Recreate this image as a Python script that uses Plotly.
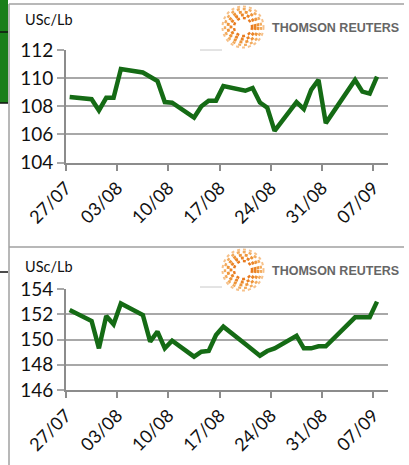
import plotly.graph_objects as go
import pandas as pd

W, H = 409, 465

# ---- data ----
dates = ["2018-07-27", "2018-07-30", "2018-07-31", "2018-08-01", "2018-08-02", "2018-08-03",
         "2018-08-06", "2018-08-07", "2018-08-08", "2018-08-09", "2018-08-10",
         "2018-08-13", "2018-08-14", "2018-08-15", "2018-08-16", "2018-08-17",
         "2018-08-20", "2018-08-21", "2018-08-22", "2018-08-23", "2018-08-24",
         "2018-08-27", "2018-08-28", "2018-08-29", "2018-08-30", "2018-08-31",
         "2018-09-04", "2018-09-05", "2018-09-06", "2018-09-07"]
top_values = [108.66, 108.5, 107.7, 108.6, 108.6, 110.65,
              110.4, 110.1, 109.8, 108.3, 108.25,
              107.2, 108.0, 108.4, 108.4, 109.44,
              109.1, 109.3, 108.26, 107.9, 106.25,
              108.3, 107.8, 109.16, 109.87, 106.8,
              109.87, 109.04, 108.9, 110.1]
bottom_values = [152.34, 151.47, 149.3, 151.86, 151.2, 152.86,
                 151.94, 149.83, 150.62, 149.3, 149.9,
                 148.64, 149.03, 149.09, 150.36, 151.02,
                 149.64, 149.18, 148.72, 149.09, 149.3,
                 150.3, 149.3, 149.3, 149.46, 149.46,
                 151.76, 151.76, 151.76, 153.0]
tick_dates = ["2018-07-27", "2018-08-03", "2018-08-10", "2018-08-17",
              "2018-08-24", "2018-08-31", "2018-09-07"]
tick_labels = ["27/07", "03/08", "10/08", "17/08", "24/08", "31/08", "07/09"]
top_yticks = [104, 106, 108, 110, 112]
bottom_yticks = [146, 148, 150, 152, 154]
unit_label = "USc/Lb"
brand = "THOMSON REUTERS"

LINE = "#156b15"
GRID = "#a8a8a8"
AXIS = "#8c8c8c"
FONT = "Lato"

half = pd.Timedelta(hours=12)
tickvals = [(pd.Timestamp(d) - half).strftime("%Y-%m-%d %H:%M") for d in tick_dates]
xr = [(pd.Timestamp(dates[0]) - half).strftime("%Y-%m-%d %H:%M"),
      (pd.Timestamp(dates[-1]) + half + pd.Timedelta(days=1)).strftime("%Y-%m-%d %H:%M")]

def px(x):
    return x / W

def py(y):
    return 1 - y / H

fig = go.Figure()
fig.add_trace(go.Scatter(x=dates, y=top_values, mode="lines",
                         line=dict(color=LINE, width=4.5), xaxis="x", yaxis="y",
                         showlegend=False, hoverinfo="skip"))
fig.add_trace(go.Scatter(x=dates, y=bottom_values, mode="lines",
                         line=dict(color=LINE, width=4.5), xaxis="x2", yaxis="y2",
                         showlegend=False, hoverinfo="skip"))

xdom = [px(66), px(388)]
xcommon = dict(type="date", range=xr, tickmode="array", tickvals=tickvals,
               ticktext=tick_labels, tickangle=-45, showgrid=False, automargin=False,
               showline=True, linecolor=AXIS, linewidth=2, ticks="outside",
               ticklen=6, tickwidth=1.5, tickcolor=AXIS,
               tickfont=dict(family=FONT, size=18, color="#111"), zeroline=False,
               fixedrange=True)
ycommon = dict(tickmode="array", showgrid=True, gridcolor=GRID, gridwidth=1.6,
               showline=True, linecolor=AXIS, linewidth=2, ticks="outside",
               ticklen=7, tickwidth=1.5, tickcolor=GRID, automargin=False,
               tickfont=dict(family=FONT, size=19, color="#111"), zeroline=False,
               fixedrange=True)

fig.update_layout(
    template="none",
    width=W, height=H, margin=dict(l=0, r=0, t=0, b=0, pad=0, autoexpand=False),
    paper_bgcolor="white", plot_bgcolor="white", showlegend=False,
    xaxis=dict(domain=xdom, anchor="y", **xcommon),
    yaxis=dict(domain=[py(162.5), py(50)], range=[104, 112], tickvals=top_yticks,
               anchor="x", **ycommon),
    xaxis2=dict(domain=xdom, anchor="y2", **xcommon),
    yaxis2=dict(domain=[py(390), py(289)], range=[146, 154], tickvals=bottom_yticks,
                anchor="x2", **ycommon),
)

shapes = []
annotations = []
FRAME = "#a0a0a0"
# left green tab
shapes.append(dict(type="rect", xref="paper", yref="paper", x0=px(0), x1=px(8),
                   y0=py(103), y1=py(0), fillcolor="#1a7f1a", line=dict(width=0), layer="above"))
for yy in [32, 103, 272]:
    shapes.append(dict(type="line", xref="paper", yref="paper", x0=px(0), x1=px(8),
                       y0=py(yy), y1=py(yy), line=dict(color="#111", width=1.5)))
# frames
shapes.append(dict(type="line", xref="paper", yref="paper", x0=px(9), x1=px(9),
                   y0=py(4), y1=py(465), line=dict(color=FRAME, width=1.5)))
for yy in [4, 247]:
    shapes.append(dict(type="line", xref="paper", yref="paper", x0=px(9), x1=px(404),
                       y0=py(yy), y1=py(yy), line=dict(color=FRAME, width=1.5)))
for yy in [50, 287]:
    shapes.append(dict(type="line", xref="paper", yref="paper", x0=px(200), x1=px(222),
                       y0=py(yy), y1=py(yy), line=dict(color="#c8c8c8", width=1)))

# logos
for cy, unit_y in [(27, 19), (270, 266)]:
    cx = 243
    rings = [(9, "#e87a1e", 2.4), (12, "#ea8426", 2.8), (15, "#ee953a", 2.8),
             (18, "#f2ab5e", 2.4), (20.5, "#f6c18a", 2.0)]
    for r, col, w in rings:
        shapes.append(dict(type="circle", xref="paper", yref="paper",
                           x0=px(cx - r), x1=px(cx + r), y0=py(cy + r), y1=py(cy - r),
                           line=dict(color=col, width=w, dash="dot")))
    annotations.append(dict(text="<b>" + brand + "</b>", xref="paper", yref="paper",
                            x=px(401), y=py(cy + 1), xanchor="right", yanchor="middle",
                            showarrow=False,
                            font=dict(family="Liberation Sans", size=12.5, color="#666666")))
    annotations.append(dict(text=unit_label, xref="paper", yref="paper",
                            x=px(23), y=py(unit_y), xanchor="left", yanchor="middle",
                            showarrow=False,
                            font=dict(family=FONT, size=14.5, color="#111")))

fig.update_layout(shapes=shapes, annotations=annotations)
fig.write_html("out.html", config={"displayModeBar": False},
               post_script="document.body.style.margin='0';document.body.style.padding='0';")
